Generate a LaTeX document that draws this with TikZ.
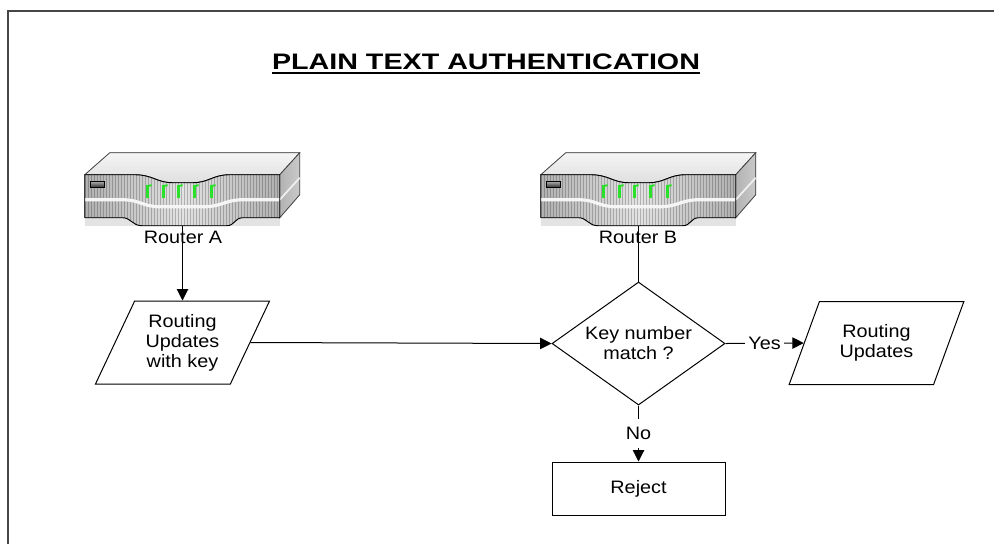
\documentclass[tikz,border=0pt]{standalone}
\usepackage{fontspec}
\setmainfont{Liberation Sans}[FakeStretch=1.1]
\newfontfamily\titlefont{Liberation Sans Bold}[FakeStretch=1.28]
\usetikzlibrary{shapes.geometric,arrows.meta}
\definecolor{ledgreen}{RGB}{40,225,40}
\definecolor{framecol}{RGB}{70,70,70}
\tikzset{
  conn/.style={line width=0.75pt, draw=black},
  tip/.style={-{Triangle[length=8.5pt,width=8.5pt]}},
  pgram/.style={draw, line width=0.75pt, trapezium, trapezium left angle=62, trapezium right angle=118,
    trapezium stretches=true, minimum width=131.25pt, minimum height=62.25pt, inner sep=0pt, align=center},
  dmd/.style={draw, line width=0.75pt, diamond, aspect=1.4, minimum width=129.75pt, minimum height=92.25pt,
    inner sep=0pt, align=center},
  rbox/.style={draw, line width=0.75pt, rectangle, minimum width=129.75pt, minimum height=39.75pt, inner sep=0pt},
  rtr/.style={rectangle, minimum width=146.25pt, minimum height=38.25pt, inner sep=0pt},
  lbl/.style={inner sep=0pt},
  edgelbl/.style={fill=white, inner xsep=2.25pt, inner ysep=0pt, minimum height=22pt},
  router/.pic={
    % base strip
    \fill[gray!22] (0,43) rectangle (195,51);
    % top face (incl. dip)
    \filldraw[draw=gray!55!black, top color=gray!8, bottom color=gray!25, line width=0.6pt]
      (0,0) -- (25,-22) -- (215,-22) -- (195,0) -- (145,0) .. controls (128,0) and (124,8) .. (108,8)
      -- (88,8) .. controls (72,8) and (68,0) .. (50,0) -- cycle;
    % right face
    \filldraw[draw=gray!55!black, left color=gray!60, right color=gray!42, line width=0.6pt]
      (195,0) -- (215,-22) -- (215,20) -- (195,43) -- cycle;
    \draw[gray!12, line width=1.3pt] (195,25) -- (215,3);
    % front face
    \begin{scope}
      \clip (0,0) -- (50,0) .. controls (68,0) and (72,8) .. (88,8) -- (108,8) .. controls (124,8) and (128,0) .. (145,0)
        -- (195,0) -- (195,43) -- (158,43) .. controls (150,43) and (150,51) .. (142,51) -- (57,51)
        .. controls (48,51) and (46,43) .. (38,43) -- (0,43) -- cycle;
      \fill[left color=gray!62, right color=gray!62, middle color=gray!22] (0,-1) rectangle (195,52);
      \foreach \i in {1,4,...,194} \draw[black, opacity=0.22, line width=0.7pt] (\i,0) -- (\i,52);
      \draw[gray!8, line width=2.4pt] (0,25) -- (38,25) .. controls (55,25) and (58,32) .. (75,32)
        -- (118,32) .. controls (138,32) and (140,25) .. (158,25) -- (195,25);
    \end{scope}
    \draw[black, line width=0.7pt] (0,0) -- (50,0) .. controls (68,0) and (72,8) .. (88,8) -- (108,8)
      .. controls (124,8) and (128,0) .. (145,0) -- (195,0) -- (195,43) -- (158,43)
      .. controls (150,43) and (150,51) .. (142,51) -- (57,51) .. controls (48,51) and (46,43) .. (38,43)
      -- (0,43) -- cycle;
    % button
    \filldraw[draw=black, line width=0.5pt, top color=gray!70, bottom color=gray!30!black] (6,7) rectangle (20,13);
    % LEDs
    \foreach \x in {63,79,94,110,127} {
      \fill[ledgreen] (\x-1.5,12) rectangle (\x+1.5,23);
      \fill[ledgreen] (\x-1.5,10.5) -- (\x+4,9.5) -- (\x+4,11.5) -- (\x-1.5,12.5) -- cycle;
    }
  }
}
\begin{document}
\begin{tikzpicture}[x=0.75pt, y=-0.75pt, font=\fontsize{13.5}{15}\selectfont]
\useasboundingbox (0,0) rectangle (994,544);
\fill[white] (0,0) rectangle (994,544);
\draw[framecol, line width=1.1pt] (994,11) -- (8,11) -- (8,544);

% title
\node[anchor=base, inner sep=0pt, font=\titlefont\fontsize{16.8}{20}\selectfont] (title) at (486,69) {PLAIN TEXT AUTHENTICATION};
\draw[line width=1.3pt] ([yshift=-2.8pt]title.base west) -- ([yshift=-2.8pt]title.base east);

% routers
\node[rtr] (ra) at (182.5,200.5) {};
\node[rtr] (rb) at (638.5,200.5) {};
\pic at (ra.north west) {router};
\pic at (rb.north west) {router};
\node[lbl, anchor=base] (la) at (183,243) {Router A};
\node[lbl, anchor=base] (lb) at (638,243.5) {Router B};

% flowchart nodes
\node[pgram] (pa) at (182.5,342.5) {Routing\\Updates\\with key};
\node[pgram] (pb) at (876.5,343) {Routing\\Updates};
\node[dmd] (dia) at (638.5,343.5) {Key number\\match ?};
\node[rbox] (rej) at (638.5,488.5) {Reject};

% connectors
\draw[conn, tip] (ra.south) -- (ra.south |- pa.north);
\draw[conn] (rb.south) -- (dia.north);
\draw[conn, tip] (pa.east) -- (dia.west);
\draw[conn, tip] (dia.east) -- node[edgelbl] {Yes} (pb.west);
\draw[conn, tip] (dia.south) -- node[edgelbl] {No} (rej.north);
\end{tikzpicture}
\end{document}
